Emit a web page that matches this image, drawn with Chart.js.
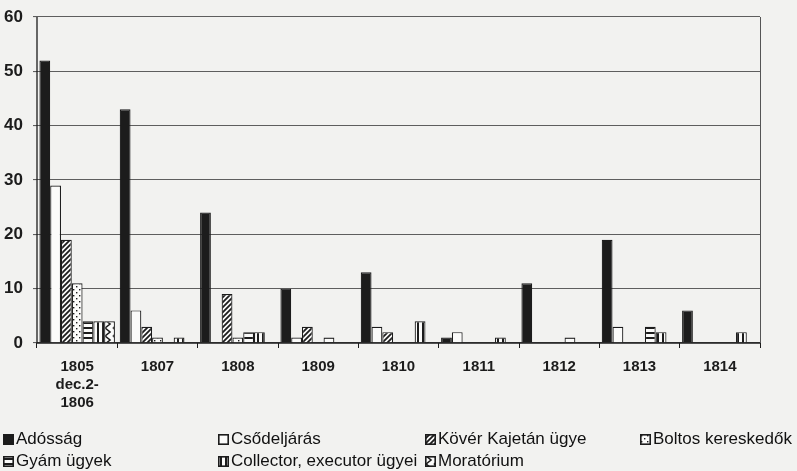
<!DOCTYPE html>
<html>
<head>
<meta charset="utf-8">
<script src="https://cdn.jsdelivr.net/npm/chart.js@4/dist/chart.umd.min.js"></script>
<style>
  html, body { margin:0; padding:0; background:#f2f2f0; }
  #wrap { position:relative; width:797px; height:471px; overflow:hidden; }
  #c { position:absolute; left:0; top:0; }
  .lg { position:absolute; font-family:"Liberation Sans", Arial, sans-serif; font-size:17px; color:#111; white-space:nowrap; display:flex; align-items:center; line-height:20px; }
  .lg canvas { margin-right:2px; }
</style>
</head>
<body>
<div id="wrap">
  <canvas id="c" width="797" height="471"></canvas>
  <div id="legend"></div>
</div>
<script>
const categories = [['1805','dec.2-','1806'],'1807','1808','1809','1810','1811','1812','1813','1814'];
const seriesNames = ['Adósság','Csődeljárás','Kövér Kajetán ügye','Boltos kereskedők','Gyám ügyek','Collector, executor ügyei','Moratórium'];
const adossag    = [52,43,24,10,13,1,11,19,6];
const csodeljaras= [29,6,0,1,3,2,0,3,0];
const kover      = [19,3,9,3,2,0,0,0,0];
const boltos     = [11,1,1,0,0,0,0,0,0];
const gyam       = [4,0,2,1,0,0,1,3,0];
const collector  = [4,1,2,0,4,1,0,2,2];
const moratorium = [4,0,0,0,0,0,0,0,0];
const yTicks = [0,10,20,30,40,50,60];

const INK = '#1c1c1c';
function makePattern(kind){
  const cv = document.createElement('canvas');
  const s = kind==='hatch'?5:(kind==='dots'?6:(kind==='horiz'?5:(kind==='vert'?5:8)));
  cv.width = s; cv.height = s;
  const g = cv.getContext('2d');
  g.fillStyle = '#fbfbfa'; g.fillRect(0,0,s,s);
  g.strokeStyle = INK; g.fillStyle = INK;
  if(kind==='hatch'){
    g.lineWidth = 1.8;
    g.beginPath(); g.moveTo(-1,s+1); g.lineTo(s+1,-1);
    g.moveTo(-1,1); g.lineTo(1,-1);
    g.moveTo(s-1,s+1); g.lineTo(s+1,s-1); g.stroke();
  } else if(kind==='dots'){
    g.fillRect(1,1,1.4,1.4); g.fillRect(4,4,1.4,1.4);
  } else if(kind==='horiz'){
    g.fillRect(0,2,s,2);
  } else if(kind==='vert'){
    g.fillRect(2,0,2,s);
  } else if(kind==='chev'){
    g.lineWidth = 1.6;
    g.beginPath(); g.moveTo(1,0); g.lineTo(6,4); g.lineTo(1,8); g.stroke();
  }
  return g.createPattern(cv,'repeat');
}
const fills = [INK, '#fbfbfa', makePattern('hatch'), makePattern('dots'), makePattern('horiz'), makePattern('vert'), makePattern('chev')];
const dataSets = [adossag, csodeljaras, kover, boltos, gyam, collector, moratorium];

const datasets = dataSets.map((d,i)=>({
  label: seriesNames[i],
  data: d,
  backgroundColor: fills[i],
  borderColor: INK,
  borderWidth: 1.2,
  borderSkipped: 'bottom',
  categoryPercentage: 0.94,
  barPercentage: 1.0
}));

const frame = {
  id:'frame',
  afterDraw(chart){
    const {ctx, chartArea:a} = chart;
    ctx.save();
    ctx.strokeStyle = '#555'; ctx.lineWidth = 1;
    ctx.beginPath(); ctx.moveTo(a.right+0.5, a.top); ctx.lineTo(a.right+0.5, a.bottom); ctx.stroke();
    ctx.strokeStyle = INK; ctx.lineWidth = 1.3;
    ctx.beginPath(); ctx.moveTo(a.left, a.top); ctx.lineTo(a.left, a.bottom); ctx.lineTo(a.right, a.bottom); ctx.stroke();
    ctx.restore();
  }
};

new Chart(document.getElementById('c'), {
  type:'bar',
  data:{ labels: categories, datasets },
  options:{
    responsive:false, animation:false,
    layout:{ padding:{ left:0, right:37, top:17, bottom:0 } },
    plugins:{ legend:{display:false}, tooltip:{enabled:false} },
    scales:{
      x:{
        grid:{ display:true, drawOnChartArea:false, drawTicks:true, tickLength:5, color:INK, offset:true },
        border:{ display:false },
        ticks:{ color:INK, font:{ family:'"Liberation Sans", Arial, sans-serif', size:15, weight:'bold', lineHeight:1.2 }, padding:10, maxRotation:0, autoSkip:false },
        afterFit(s){ s.height = 128; s.paddingLeft = 0; s.paddingRight = 0; }
      },
      y:{
        min:0, max:60,
        afterBuildTicks(s){ s.ticks = yTicks.map(v=>({value:v})); },
        grid:{ color:'#5e5e5e', lineWidth:1.1, drawTicks:true, tickLength:4 },
        border:{ display:false },
        ticks:{ color:INK, font:{ family:'"Liberation Sans", Arial, sans-serif', size:17, weight:'bold' }, padding:10 },
        afterFit(s){ s.width = 37; s.paddingTop = 0; s.paddingBottom = 0; }
      }
    }
  },
  plugins:[frame]
});

// HTML legend
const pos = [[3,429],[218,429],[425,429],[640,429],[3,451],[218,451],[425,451]];
const lg = document.getElementById('legend');
seriesNames.forEach((n,i)=>{
  const d = document.createElement('div');
  d.className='lg'; d.style.left=pos[i][0]+'px'; d.style.top=pos[i][1]+'px';
  const sw = document.createElement('canvas'); sw.width=11; sw.height=11;
  const g = sw.getContext('2d');
  g.fillStyle = fills[i]; g.fillRect(0,0,11,11);
  g.strokeStyle = INK; g.lineWidth=1.6; g.strokeRect(0.8,0.8,9.4,9.4);
  d.appendChild(sw);
  const t = document.createElement('span'); t.textContent = n; d.appendChild(t);
  lg.appendChild(d);
});
</script>
</body>
</html>
